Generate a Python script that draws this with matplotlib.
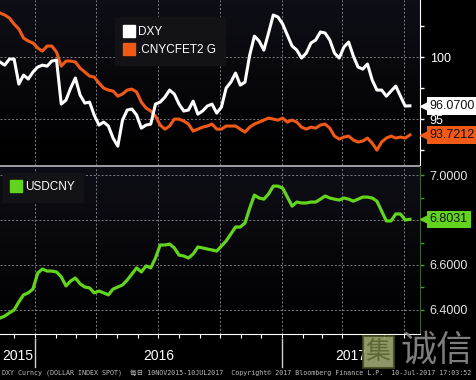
import numpy as np
import pandas as pd
import matplotlib
matplotlib.use('Agg')
import matplotlib.pyplot as plt
import matplotlib.dates as mdates
import matplotlib.transforms as mtransforms
from matplotlib.lines import Line2D
from matplotlib.patches import Rectangle
from matplotlib.colors import LinearSegmentedColormap

# weekly samples, 10 Nov 2015 - 10 Jul 2017
dates = pd.date_range('2015-11-10', '2017-07-10', periods=88)

dxy = [99.60, 99.35, 99.84, 99.84, 97.82, 98.55, 98.23, 98.79, 99.19, 99.35,
       99.27, 99.68, 99.76, 96.21, 96.53, 97.50, 98.31, 96.94, 96.29, 96.37,
       95.32, 94.52, 94.76, 94.44, 93.47, 92.82, 94.92, 95.73, 95.81, 95.32,
       94.27, 94.52, 94.60, 96.21, 96.37, 96.77, 97.34, 97.02, 96.21, 95.65,
       95.73, 96.45, 95.40, 95.65, 96.05, 96.21, 95.48, 95.97, 97.50, 97.98,
       98.71, 97.74, 97.98, 100.16, 101.69, 101.29, 100.56, 101.94, 103.39, 103.23,
       102.66, 101.77, 100.89, 100.56, 99.92, 100.32, 101.13, 101.37, 102.02, 101.94,
       101.37, 100.32, 99.92, 100.81, 101.21, 100.08, 99.19, 99.03, 99.44, 98.15,
       97.34, 97.34, 96.85, 97.26, 97.66, 96.85, 96.05, 96.07]

cfets = [103.55, 103.39, 103.15, 102.66, 102.26, 101.53, 101.29, 101.13, 100.73, 100.48,
         100.89, 100.89, 100.40, 99.27, 99.68, 99.68, 99.60, 99.11, 98.79, 98.47,
         98.39, 97.90, 97.50, 97.34, 97.26, 96.85, 97.02, 97.34, 97.42, 97.18,
         96.37, 95.89, 95.65, 95.24, 94.52, 94.19, 94.44, 95.00, 95.00, 94.84,
         94.60, 94.03, 94.19, 94.35, 94.44, 94.60, 94.19, 94.19, 94.44, 94.44,
         94.44, 94.19, 93.95, 94.35, 94.60, 94.76, 94.92, 95.08, 95.00, 94.92,
         95.08, 94.76, 94.92, 94.76, 94.35, 94.19, 94.35, 94.27, 94.52, 94.60,
         94.27, 93.63, 93.39, 93.55, 93.63, 93.31, 93.15, 93.23, 93.47, 93.06,
         92.50, 93.15, 93.47, 93.63, 93.47, 93.55, 93.47, 93.7212]

usdcny = [6.364, 6.373, 6.387, 6.400, 6.436, 6.467, 6.476, 6.493, 6.564, 6.582,
          6.573, 6.573, 6.569, 6.547, 6.507, 6.529, 6.542, 6.516, 6.502, 6.498,
          6.476, 6.484, 6.476, 6.467, 6.493, 6.502, 6.511, 6.533, 6.560, 6.587,
          6.569, 6.596, 6.587, 6.631, 6.689, 6.689, 6.693, 6.676, 6.644, 6.640,
          6.631, 6.649, 6.680, 6.676, 6.671, 6.667, 6.662, 6.684, 6.707, 6.738,
          6.769, 6.769, 6.787, 6.853, 6.911, 6.898, 6.893, 6.916, 6.951, 6.951,
          6.942, 6.902, 6.862, 6.880, 6.876, 6.876, 6.880, 6.880, 6.893, 6.907,
          6.898, 6.893, 6.889, 6.898, 6.893, 6.884, 6.893, 6.902, 6.902, 6.898,
          6.884, 6.840, 6.796, 6.796, 6.827, 6.827, 6.800, 6.8031]

WHITE = '#ffffff'
ORANGE = '#f05a16'
GREEN = '#62d41e'
GRID = '#7c7c84'
FONT = ['Liberation Sans Narrow', 'Liberation Sans', 'DejaVu Sans']

plt.rcParams['font.family'] = FONT

W, H = 477, 380
def px_box(x0, y0, x1, y1):
    return [x0 / W, 1 - y1 / H, (x1 - x0) / W, (y1 - y0) / H]

fig = plt.figure(figsize=(W / 100, H / 100), dpi=100, facecolor='black')
ax1 = fig.add_axes(px_box(0, 0, 420, 165))
ax2 = fig.add_axes(px_box(0, 167, 420, 334))

bg = LinearSegmentedColormap.from_list('bg', ['#000000', '#0e0e16'])
xmin, xmax = pd.Timestamp('2015-11-10'), pd.Timestamp('2017-07-25')

for ax in (ax1, ax2):
    ax.set_facecolor('black')
    ax.imshow(np.linspace(0, 1, 50).reshape(-1, 1), cmap=bg, aspect='auto',
              extent=[0, 1, 1, 0], transform=ax.transAxes, zorder=0)
    ax.set_xlim(xmin, xmax)
    ax.xaxis.set_major_locator(mdates.MonthLocator(bymonth=[1, 4, 7, 10]))
    ax.xaxis.set_minor_locator(mdates.MonthLocator())
    ax.grid(True, which='major', color=GRID, linestyle=(0, (2, 2)), linewidth=0.7)
    ax.yaxis.tick_right()
    for s in ('top', 'left', 'bottom'):
        ax.spines[s].set_visible(False)
    ax.tick_params(axis='x', which='both', labelbottom=False)

# top panel
ax1.plot(dates, cfets, color=ORANGE, lw=2.2, zorder=3)
ax1.plot(dates, dxy, color=WHITE, lw=2.2, zorder=4)
ax1.set_ylim(91.3, 104.6)
ax1.set_yticks([95, 100])
ax1.set_yticklabels(['95', '100'])
ax1.set_yticks([92.5, 97.5, 102.5], minor=True)
ax1.spines['right'].set_color(WHITE)
ax1.tick_params(axis='x', which='both', length=0)
ax1.tick_params(axis='y', which='both', colors=WHITE, length=3, width=1, pad=4, labelsize=9)

ax1.legend(handles=[Line2D([], [], ls='', marker='s', ms=8.5, color=WHITE, label='DXY'),
                    Line2D([], [], ls='', marker='s', ms=8.5, color=ORANGE, label='.CNYCFET2 G')],
           loc='upper left', bbox_to_anchor=(115 / 420, 1 - 17 / 165), borderaxespad=0,
           facecolor='#121217', edgecolor='#121217', framealpha=1, fancybox=False,
           labelcolor=WHITE, fontsize=8.5, handlelength=0.8, handletextpad=0.4,
           borderpad=0.75, labelspacing=0.5)

# bottom panel
ax2.plot(dates, usdcny, color=GREEN, lw=2.3, zorder=3)
ax2.set_ylim(6.293, 7.036)
ax2.set_yticks([6.4, 6.6, 6.8, 7.0])
# the 6.8000 label sits under the last value tag
ax2.set_yticklabels(['6.4000', '6.6000', '', '7.0000'])
ax2.set_yticks([6.5, 6.7, 6.9], minor=True)
ax2.spines['right'].set_color('#3e5e2c')
ax2.spines['bottom'].set_visible(True)
ax2.spines['bottom'].set_color(WHITE)
ax2.tick_params(axis='y', which='both', colors='#4a9a2a', labelcolor='#e6e6e6',
                length=3, width=1, pad=4, labelsize=9)
ax2.tick_params(axis='x', which='both', colors=WHITE, length=3, width=0.8)

ax2.legend(handles=[Line2D([], [], ls='', marker='s', ms=8.5, color=GREEN, label='USDCNY')],
           loc='upper left', bbox_to_anchor=(3 / 420, 1 - 6 / 167), borderaxespad=0,
           facecolor='#121217', edgecolor='#121217', framealpha=1, fancybox=False,
           labelcolor=WHITE, fontsize=8.5, handlelength=0.8, handletextpad=0.4,
           borderpad=0.7)

# last value tags
def tag(ax, value, fc):
    trans = mtransforms.blended_transform_factory(ax.transAxes, ax.transData)
    ax.plot([1.009], [value], marker='<', ms=6, color=fc, transform=trans,
            clip_on=False, zorder=6)
    ax.annotate(f'{value:.4f}', xy=(1, value), xycoords=trans, xytext=(7, 0),
                textcoords='offset points', ha='left', va='center', fontsize=9,
                color='#101010', annotation_clip=False, zorder=6,
                bbox=dict(boxstyle='square,pad=0.22', fc=fc, ec='none'))

tag(ax1, dxy[-1], WHITE)
tag(ax1, cfets[-1], ORANGE)
tag(ax2, usdcny[-1], GREEN)

# year labels under the axis
blend = mtransforms.blended_transform_factory(ax2.transData, ax2.transAxes)
years = [('2015', xmin, pd.Timestamp('2016-01-01')),
         ('2016', pd.Timestamp('2016-01-01'), pd.Timestamp('2017-01-01')),
         ('2017', pd.Timestamp('2017-01-01'), xmax)]
for label, a, b in years:
    ax2.text(a + (b - a) / 2, -0.13, label, transform=blend, ha='center', va='center',
             color=WHITE, fontsize=10, clip_on=False)
for d in [pd.Timestamp('2016-01-01'), pd.Timestamp('2017-01-01')]:
    ax2.axvline(d, ymin=-0.2, ymax=-0.03, color='#cfcfcf', lw=1, clip_on=False)

# separator between panels
fig.add_artist(Rectangle((0, 1 - 167 / H), 420 / W, 2 / H, transform=fig.transFigure,
                         facecolor='#9a9a9a', edgecolor='none'))

fig.text(2 / W, 1 - 373 / H,
         'DXY Curncy (DOLLAR INDEX SPOT)  每日 10NOV2015-10JUL2017  '
         'Copyright© 2017 Bloomberg Finance L.P.  10-Jul-2017 17:03:52',
         fontsize=4.8, color='#bdbdbd', va='center', ha='left',
         family=['DejaVu Sans Mono', 'Noto Sans CJK SC'])

# watermark
fig.text(378 / W, 1 - 352 / H, '集', fontsize=18, color='#56652a', ha='center', va='center',
         family=['Noto Sans CJK SC'], alpha=0.9,
         bbox=dict(boxstyle='square,pad=0.12', fc='#a8b07a', ec='#3d4a1c', lw=1.5, alpha=0.85))
fig.text(437 / W, 1 - 351 / H, '诚信', fontsize=26, color='#8c8c8c', ha='center',
         va='center', family=['Noto Sans CJK SC'], alpha=0.9)

fig.savefig('out.png', dpi=100, facecolor='black')
